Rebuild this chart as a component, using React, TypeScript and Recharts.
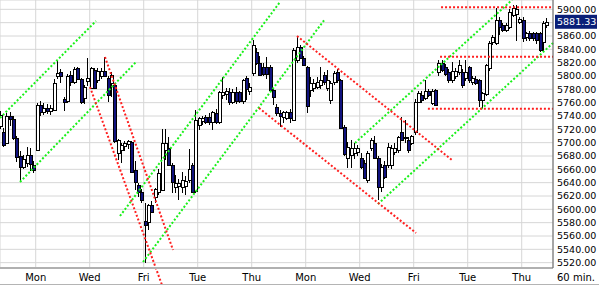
import React from 'react';
import { ComposedChart, Bar, XAxis, YAxis, CartesianGrid, ReferenceLine } from 'recharts';

// 60 min bars, 8 per session; first 3 bars are the tail of a Thursday
const FIRST_INDEX = -3;

const opens = [
  5725, 5716, 5700,
  5740, 5735, 5707, 5680, 5664, 5670, 5682, 5667,
  5689, 5756, 5746, 5752, 5747, 5750, 5800, 5806,
  5766, 5762, 5801, 5792, 5812, 5795, 5768, 5793,
  5782, 5809, 5795, 5800, 5808, 5797, 5790, 5786,
  5685, 5690, 5695, 5698, 5701, 5659, 5636, 5626,
  5582, 5580, 5606, 5618, 5626, 5630, 5690, 5692,
  5666, 5634, 5635, 5634, 5636, 5644, 5666, 5628,
  5727, 5732, 5738, 5738, 5731, 5745, 5731, 5772,
  5772, 5776, 5761, 5776, 5776, 5762, 5797, 5778,
  5805, 5836, 5820, 5813, 5813, 5813, 5779, 5754,
  5744, 5738, 5737, 5746, 5734, 5824, 5843, 5827,
  5813, 5779, 5782, 5784, 5786, 5802, 5782, 5765,
  5790, 5806, 5794, 5723, 5677, 5682, 5685, 5686,
  5677, 5670, 5644, 5692, 5700, 5677, 5634, 5666,
  5666, 5667, 5686, 5689, 5716, 5706, 5704, 5700,
  5716, 5762, 5772, 5768, 5778, 5760, 5779, 5806,
  5820, 5814, 5806, 5794, 5800, 5806, 5806, 5797,
  5813, 5791, 5796, 5794, 5764, 5772, 5812, 5850,
  5850, 5884, 5876, 5869, 5874, 5892, 5893, 5881,
  5884, 5858, 5864, 5864, 5864, 5864, 5850, 5877,
];

const highs = [
  5748, 5722, 5745,
  5746, 5740, 5710, 5688, 5682, 5694, 5692, 5672,
  5760, 5762, 5760, 5758, 5756, 5796, 5824, 5810,
  5768, 5803, 5808, 5814, 5814, 5797, 5786, 5827,
  5814, 5812, 5812, 5812, 5828, 5800, 5806, 5790,
  5706, 5700, 5703, 5704, 5703, 5672, 5640, 5630,
  5609, 5608, 5612, 5632, 5660, 5720, 5720, 5708,
  5670, 5651, 5645, 5656, 5650, 5690, 5670, 5749,
  5738, 5740, 5742, 5745, 5748, 5750, 5778, 5799,
  5782, 5782, 5780, 5784, 5778, 5796, 5800, 5790,
  5854, 5842, 5830, 5820, 5828, 5816, 5782, 5758,
  5749, 5748, 5748, 5750, 5842, 5860, 5846, 5830,
  5815, 5799, 5795, 5799, 5814, 5806, 5809, 5792,
  5808, 5810, 5796, 5726, 5701, 5704, 5700, 5696,
  5684, 5674, 5688, 5707, 5710, 5680, 5668, 5672,
  5700, 5696, 5700, 5710, 5739, 5734, 5708, 5712,
  5765, 5778, 5778, 5794, 5781, 5780, 5780, 5824,
  5824, 5818, 5810, 5821, 5812, 5824, 5810, 5824,
  5815, 5800, 5800, 5796, 5776, 5818, 5852, 5862,
  5902, 5888, 5880, 5880, 5900, 5906, 5906, 5888,
  5888, 5866, 5868, 5866, 5866, 5866, 5882, 5887,
];

const lows = [
  5720, 5693, 5698,
  5725, 5704, 5671, 5641, 5660, 5664, 5658, 5655,
  5688, 5740, 5742, 5743, 5742, 5748, 5796, 5790,
  5747, 5760, 5785, 5788, 5794, 5758, 5758, 5785,
  5780, 5780, 5790, 5796, 5798, 5761, 5768, 5700,
  5674, 5669, 5688, 5690, 5655, 5629, 5618, 5610,
  5520, 5569, 5594, 5610, 5622, 5628, 5674, 5666,
  5625, 5625, 5614, 5625, 5622, 5640, 5624, 5624,
  5719, 5726, 5728, 5726, 5719, 5728, 5728, 5766,
  5764, 5756, 5758, 5758, 5760, 5758, 5764, 5772,
  5800, 5816, 5800, 5800, 5796, 5778, 5756, 5740,
  5724, 5730, 5734, 5730, 5732, 5820, 5826, 5815,
  5744, 5768, 5776, 5780, 5780, 5786, 5778, 5758,
  5786, 5790, 5720, 5680, 5662, 5662, 5676, 5680,
  5660, 5645, 5640, 5688, 5676, 5614, 5626, 5646,
  5662, 5660, 5682, 5684, 5702, 5700, 5684, 5696,
  5712, 5760, 5760, 5764, 5768, 5756, 5756, 5800,
  5806, 5800, 5790, 5790, 5796, 5802, 5782, 5792,
  5790, 5786, 5786, 5754, 5752, 5770, 5808, 5846,
  5846, 5862, 5866, 5866, 5870, 5888, 5852, 5878,
  5851, 5852, 5852, 5852, 5848, 5836, 5838, 5872,
];

const closes = [
  5742, 5697, 5740,
  5735, 5707, 5678, 5664, 5676, 5682, 5668, 5660,
  5756, 5746, 5752, 5747, 5752, 5790, 5805, 5800,
  5761, 5800, 5790, 5811, 5796, 5760, 5784, 5797,
  5812, 5782, 5808, 5808, 5800, 5772, 5802, 5702,
  5704, 5697, 5700, 5702, 5656, 5641, 5626, 5614,
  5576, 5606, 5595, 5630, 5655, 5700, 5700, 5667,
  5640, 5640, 5640, 5644, 5643, 5660, 5626, 5734,
  5737, 5737, 5731, 5730, 5746, 5731, 5776, 5776,
  5777, 5761, 5776, 5762, 5762, 5794, 5780, 5784,
  5847, 5820, 5802, 5802, 5802, 5779, 5768, 5745,
  5740, 5746, 5746, 5737, 5839, 5843, 5827, 5816,
  5754, 5789, 5790, 5791, 5794, 5791, 5794, 5790,
  5804, 5794, 5722, 5682, 5694, 5692, 5692, 5692,
  5664, 5647, 5684, 5704, 5678, 5634, 5664, 5648,
  5693, 5692, 5692, 5708, 5704, 5708, 5689, 5710,
  5761, 5775, 5765, 5778, 5772, 5778, 5757, 5820,
  5809, 5804, 5794, 5808, 5808, 5816, 5787, 5806,
  5794, 5797, 5790, 5764, 5774, 5816, 5850, 5858,
  5884, 5874, 5869, 5876, 5896, 5902, 5901, 5886,
  5857, 5864, 5857, 5857, 5854, 5839, 5879, 5881.33,
];

// session boundaries (every second day) and their labels
const dayTicks = [7.5, 23.5, 39.5, 55.5, 71.5, 87.5, 103.5, 119.5, 135.5, 151.5];
const dayLabels = ['Mon', 'Wed', 'Fri', 'Tue', 'Thu', 'Mon', 'Wed', 'Fri', 'Tue', 'Thu'];

const priceTicks = [
  5520, 5540, 5560, 5580, 5600, 5620, 5640, 5660, 5680, 5700,
  5720, 5740, 5760, 5780, 5800, 5820, 5840, 5860, 5880, 5900,
];

// trend lines as [barIndex, price] pairs
const greenLines = [
  [[-3.08, 5737], [25.36, 5882.5]],
  [[2.85, 5641], [37.22, 5821]],
  [[32.48, 5590], [79.88, 5911]],
  [[39.29, 5521], [93.22, 5885.5]],
  [[108.92, 5608], [160.77, 5849.5]],
  [[102.11, 5699.5], [148.62, 5914]],
];
const redLines = [
  [[23.59, 5783.5], [44.92, 5486.5]],
  [[28.03, 5828.5], [48.18, 5539]],
  [[84.92, 5860], [130.85, 5674]],
  [[73.66, 5752], [120.18, 5564.5]],
  [[127.6, 5903], [160.77, 5903]],
  [[127.3, 5829], [160.77, 5829]],
  [[123.7, 5751], [160.77, 5751]],
];

const X_DOMAIN: [number, number] = [-3.08, 160.77];
const Y_DOMAIN: [number, number] = [5512, 5914];
const FONT = 'DejaVu Sans';

const data = closes.map((close, k) => ({
  i: FIRST_INDEX + k,
  open: opens[k],
  high: highs[k],
  low: lows[k],
  close,
  range: [lows[k], highs[k]],
}));

const Candle = (props: any) => {
  const { x, y, width, height, payload } = props;
  if (x == null || y == null) return null;
  const { open, close, high, low } = payload;
  const top = Math.min(y, y + height);
  const h = Math.abs(height);
  const ratio = high === low ? 0 : h / (high - low);
  const c = Math.round(x + width / 2 - 0.5);
  const yOpen = top + (high - open) * ratio;
  const yClose = top + (high - close) * ratio;
  const up = close >= open;
  const bodyTop = Math.round(Math.min(yOpen, yClose)) + 0.5;
  const bodyH = Math.max(1, Math.round(Math.abs(yOpen - yClose)));
  return (
    <g>
      <line
        x1={c + 0.5}
        x2={c + 0.5}
        y1={Math.round(top)}
        y2={Math.round(top + h)}
        stroke="#000"
        strokeWidth={1}
      />
      <rect
        x={c - 0.5}
        y={bodyTop}
        width={3}
        height={bodyH}
        fill={up ? '#ffffff' : '#10127e'}
        stroke="#000"
        strokeWidth={1}
      />
    </g>
  );
};

const DayTick = (props: any) => {
  const { x, payload } = props;
  const idx = dayTicks.indexOf(payload.value);
  return (
    <text x={x} y={281} textAnchor="middle" fontFamily={FONT} fontSize={10} fill="#000">
      {dayLabels[idx]}
    </text>
  );
};

const PriceTag = (props: any) => {
  const vb = props.viewBox;
  if (!vb) return null;
  const left = vb.x + vb.width + 2;
  return (
    <g>
      <rect x={left} y={vb.y - 7} width={42} height={14} fill="#0a1f78" />
      <text x={left + 2} y={vb.y + 3.5} fontFamily={FONT} fontSize={9.5} fill="#fff">
        {closes[closes.length - 1].toFixed(2)}
      </text>
    </g>
  );
};

export default function App() {
  return (
    <div style={{ position: 'absolute', left: 0, top: 0, width: 599, height: 285, background: '#fff' }}>
      <div style={{ borderBottom: '1px solid #b4b4b4', width: 599, height: 284 }}>
        <ComposedChart width={599} height={284} data={data} margin={{ top: 0, right: 0, bottom: 0, left: 0 }}>
          <CartesianGrid stroke="#d6d6d6" strokeWidth={1} />
          <XAxis
            dataKey="i"
            type="number"
            domain={X_DOMAIN}
            ticks={dayTicks}
            interval={0}
            allowDataOverflow
            height={16}
            tickLine={false}
            axisLine={{ stroke: '#b0b0b0', strokeWidth: 2 }}
            tick={<DayTick />}
          />
          <YAxis
            orientation="right"
            type="number"
            domain={Y_DOMAIN}
            ticks={priceTicks}
            interval={0}
            allowDataOverflow
            width={46}
            tickLine={false}
            tickSize={0}
            tickMargin={4}
            axisLine={{ stroke: '#606060' }}
            tick={{ fontFamily: FONT, fontSize: 9.5, fill: '#000' }}
            tickFormatter={(v: number) => (v === 5880 ? '' : v.toFixed(2))}
          />
          <Bar dataKey="range" barSize={3} shape={<Candle />} isAnimationActive={false} />
          {greenLines.map((s, k) => (
            <ReferenceLine
              key={`g${k}`}
              segment={[{ x: s[0][0], y: s[0][1] }, { x: s[1][0], y: s[1][1] }]}
              stroke="#19f019"
              strokeWidth={2}
              strokeDasharray="2 2"
              ifOverflow="visible"
            />
          ))}
          {redLines.map((s, k) => (
            <ReferenceLine
              key={`r${k}`}
              segment={[{ x: s[0][0], y: s[0][1] }, { x: s[1][0], y: s[1][1] }]}
              stroke="#ff1f1f"
              strokeWidth={2}
              strokeDasharray="2 2"
              ifOverflow="visible"
            />
          ))}
          <ReferenceLine
            y={closes[closes.length - 1]}
            stroke="none"
            ifOverflow="visible"
            label={(p: any) => <PriceTag {...p} />}
          />
        </ComposedChart>
      </div>
      <div
        style={{
          position: 'absolute',
          left: 557,
          top: 272,
          fontFamily: FONT,
          fontSize: 10,
          color: '#000',
          lineHeight: '12px',
          whiteSpace: 'nowrap',
        }}
      >
        60 min.
      </div>
    </div>
  );
}
